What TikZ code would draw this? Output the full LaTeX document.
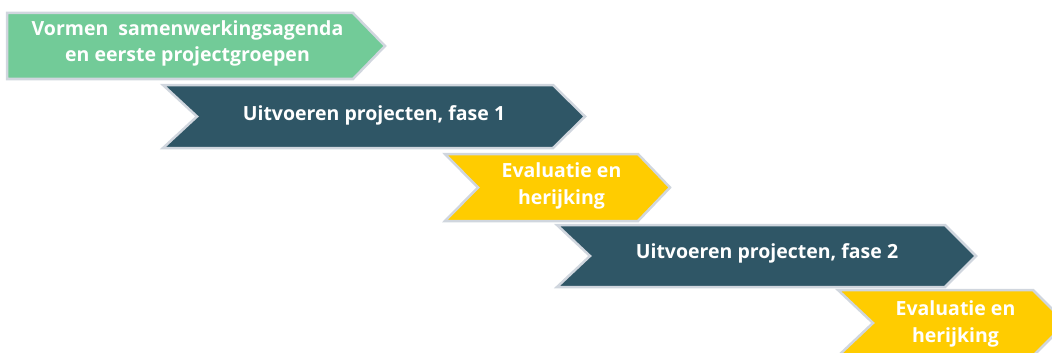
\documentclass[tikz,border=0pt]{standalone}
\usepackage{fontspec}
\setmainfont{Open Sans}
\usetikzlibrary{positioning}
\definecolor{groen}{HTML}{72CB98}
\definecolor{blauw}{HTML}{2F5666}
\definecolor{geel}{HTML}{FFCC00}
\definecolor{rand}{HTML}{D0D6DE}
\tikzset{
  pijl/.style={draw=rand, line width=2.5pt, line join=miter},
  tekst/.style={text=white, font=\bfseries\fontsize{19.5}{27}\selectfont, align=center, inner sep=0pt}
}
\begin{document}
\begin{tikzpicture}[x=1pt,y=-1pt]
\useasboundingbox (0,0) rectangle (1052,353);
\clip (0,0) rectangle (1052,353);
% pijlen
\draw[pijl,fill=groen] (7,13) -- (353,13) -- (385,46) -- (353,79) -- (7,79) -- cycle;
\draw[pijl,fill=blauw] (163,85) -- (553,85) -- (585,116.5) -- (553,148) -- (163,148) -- (197,116.5) -- cycle;
\draw[pijl,fill=geel] (445,154) -- (638,154) -- (670,187.5) -- (638,221) -- (445,221) -- (478,187.5) -- cycle;
\draw[pijl,fill=blauw] (557,225) -- (945,225) -- (976,256) -- (945,287) -- (557,287) -- (590,256) -- cycle;
\draw[pijl,fill=geel] (838,290) -- (1033,290) -- (1066,323) -- (1033,356) -- (838,356) -- (873,323) -- cycle;
% teksten
\node[tekst,font=\bfseries\fontsize{19.5}{26}\selectfont] (agenda) at (187.5,43) {Vormen\ \ samenwerkingsagenda\\en eerste projectgroepen};
\node[tekst] (fase1) at (374,115) {Uitvoeren projecten, fase 1};
\node[tekst] (evaluatie1) at (561.5,186.3) {Evaluatie en\\herijking};
\node[tekst] (fase2) at (767,253.3) {Uitvoeren projecten, fase 2};
\node[tekst] (evaluatie2) at (955.5,323.8) {Evaluatie en\\herijking};
\end{tikzpicture}
\end{document}
